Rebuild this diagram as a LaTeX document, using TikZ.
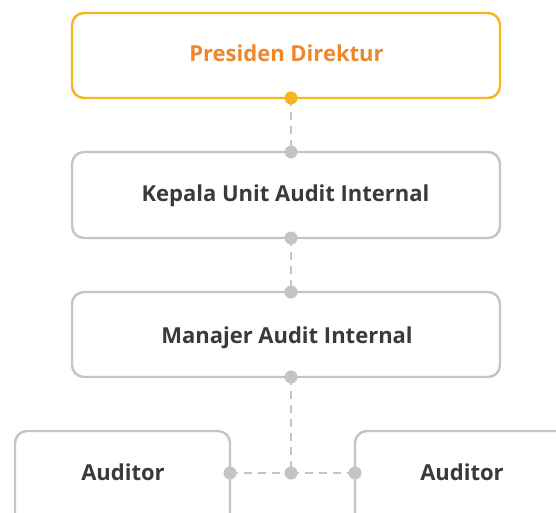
\documentclass[tikz,border=0pt]{standalone}
\usepackage{fontspec}
\setmainfont{Open Sans}
\definecolor{boxgray}{HTML}{C4C4C6}
\definecolor{boxorange}{HTML}{F9B51E}
\definecolor{txtorange}{HTML}{F0862A}
\definecolor{txtdark}{HTML}{3A3A3C}
\tikzset{
  orgbox/.style={draw=boxgray, line width=2.4pt, rounded corners=12pt, fill=white},
  topbox/.style={orgbox, draw=boxorange},
  lbl/.style={font=\bfseries\fontsize{22}{26}\selectfont, text=txtdark, anchor=base, inner sep=0pt},
  toplbl/.style={lbl, text=txtorange},
  link/.style={draw=boxgray, line width=2.4pt, dash pattern=on 8pt off 6pt},
  grdot/.style={circle, fill=boxgray, minimum size=13pt, inner sep=0pt},
  ordot/.style={circle, fill=boxorange, minimum size=13pt, inner sep=0pt},
}
\begin{document}
\begin{tikzpicture}[x=1pt,y=-1pt]
\useasboundingbox (0,0) rectangle (556,513);
\clip (0,0) rectangle (556,513);
% boxes
\draw[topbox] (72,13) rectangle (500,98);
\draw[orgbox] (72,152) rectangle (500,238);
\draw[orgbox] (72,292) rectangle (500,377);
\draw[orgbox] (15,431) rectangle (230,540);
\draw[orgbox] (355,431) rectangle (580,540);
% labels
\node[toplbl] (t1) at (286.5,62) {Presiden Direktur};
\node[lbl] (t2) at (285.5,201) {Kepala Unit Audit Internal};
\node[lbl] (t3) at (287,343) {Manajer Audit Internal};
\node[lbl] (t4) at (123,480) {Auditor};
\node[lbl] (t5) at (462,480) {Auditor};
% connection points
\coordinate (a1) at (291,98);
\coordinate (b1) at (291,152);
\coordinate (b2) at (291,238);
\coordinate (c1) at (291,292);
\coordinate (c2) at (291,377);
\coordinate (j) at (291,473);
\coordinate (l) at (230,473);
\coordinate (r) at (355,473);
% links
\draw[link] (a1) -- (b1);
\draw[link] (b2) -- (c1);
\draw[link] (c2) -- (j);
\draw[link] (l) -- (j);
\draw[link] (j) -- (r);
% dots
\node[ordot] (da1) at (a1) {};
\node[grdot] (db1) at (b1) {};
\node[grdot] (db2) at (b2) {};
\node[grdot] (dc1) at (c1) {};
\node[grdot] (dc2) at (c2) {};
\node[grdot] (dj) at (j) {};
\node[grdot] (dl) at (l) {};
\node[grdot] (dr) at (r) {};
\end{tikzpicture}
\end{document}
